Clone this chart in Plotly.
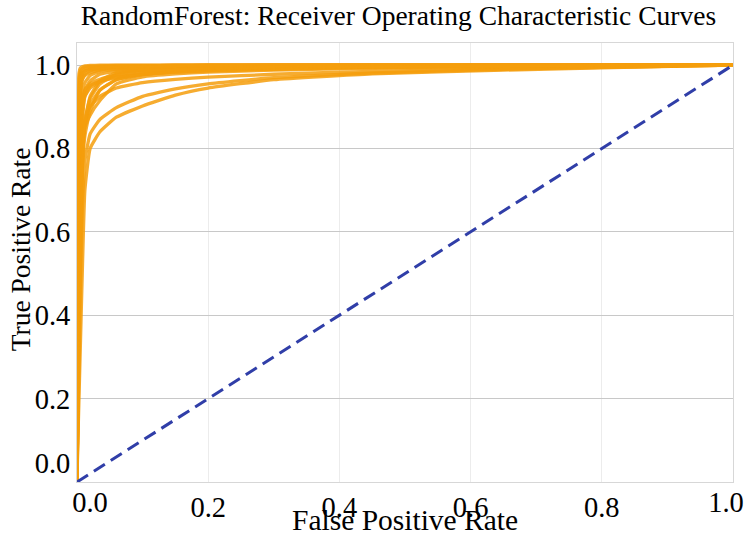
import plotly.graph_objects as go

# Shared false-positive-rate grid for every fold / class curve
fpr_grid = [0.0, 0.001, 0.003, 0.005, 0.008, 0.012, 0.02, 0.035, 0.06,
            0.1, 0.15, 0.2, 0.3, 0.45, 0.65, 0.85, 1.0]

# True-positive rates of each RandomForest ROC curve on the grid above
tpr_curves = [
    [0, 0.08, 0.20, 0.32, 0.50, 0.70, 0.80, 0.840, 0.875, 0.902, 0.928, 0.945, 0.965, 0.979, 0.988, 0.995, 1],
    [0, 0.10, 0.28, 0.45, 0.65, 0.77, 0.835, 0.870, 0.898, 0.925, 0.943, 0.955, 0.970, 0.981, 0.990, 0.996, 1],
    [0, 0.12, 0.33, 0.55, 0.76, 0.86, 0.900, 0.925, 0.945, 0.958, 0.966, 0.971, 0.978, 0.985, 0.991, 0.996, 1],
    [0, 0.15, 0.40, 0.62, 0.78, 0.85, 0.880, 0.915, 0.955, 0.972, 0.979, 0.983, 0.988, 0.992, 0.995, 0.998, 1],
    [0, 0.14, 0.36, 0.58, 0.74, 0.83, 0.890, 0.940, 0.965, 0.977, 0.983, 0.986, 0.990, 0.994, 0.997, 0.999, 1],
    [0, 0.20, 0.50, 0.72, 0.86, 0.925, 0.950, 0.962, 0.972, 0.978, 0.985, 0.990, 0.993, 0.996, 0.998, 0.999, 1],
    [0, 0.25, 0.58, 0.80, 0.90, 0.940, 0.962, 0.978, 0.985, 0.990, 0.993, 0.995, 0.997, 0.998, 0.999, 1, 1],
    [0, 0.18, 0.45, 0.66, 0.80, 0.870, 0.920, 0.955, 0.978, 0.987, 0.991, 0.993, 0.995, 0.997, 0.998, 0.999, 1],
    [0, 0.30, 0.65, 0.85, 0.93, 0.958, 0.975, 0.985, 0.990, 0.993, 0.995, 0.996, 0.997, 0.998, 0.999, 1, 1],
    [0, 0.40, 0.78, 0.92, 0.965, 0.978, 0.986, 0.991, 0.994, 0.996, 0.997, 0.998, 0.999, 1, 1, 1, 1],
    [0, 0.50, 0.86, 0.955, 0.978, 0.986, 0.990, 0.993, 0.995, 0.997, 0.998, 0.999, 1, 1, 1, 1, 1],
    [0, 0.60, 0.92, 0.972, 0.986, 0.991, 0.994, 0.996, 0.997, 0.998, 0.999, 1, 1, 1, 1, 1, 1],
    [0, 0.70, 0.95, 0.985, 0.992, 0.995, 0.997, 0.998, 0.999, 0.999, 1, 1, 1, 1, 1, 1, 1],
    [0, 0.85, 0.98, 0.993, 0.996, 0.998, 0.999, 1, 1, 1, 1, 1, 1, 1, 1, 1, 1],
    [0, 0.16, 0.42, 0.64, 0.79, 0.860, 0.905, 0.940, 0.965, 0.978, 0.984, 0.987, 0.991, 0.995, 0.997, 0.999, 1],
    [0, 0.22, 0.55, 0.76, 0.88, 0.925, 0.945, 0.960, 0.970, 0.980, 0.987, 0.991, 0.994, 0.996, 0.998, 0.999, 1],
    [0, 0.28, 0.60, 0.82, 0.91, 0.940, 0.955, 0.966, 0.976, 0.984, 0.989, 0.992, 0.995, 0.997, 0.998, 0.999, 1],
    [0, 0.13, 0.38, 0.60, 0.76, 0.860, 0.925, 0.962, 0.982, 0.988, 0.991, 0.993, 0.995, 0.997, 0.998, 0.999, 1],
    [0, 0.45, 0.82, 0.935, 0.965, 0.975, 0.982, 0.988, 0.992, 0.995, 0.997, 0.998, 0.999, 1, 1, 1, 1],
    [0, 0.55, 0.90, 0.965, 0.980, 0.986, 0.990, 0.993, 0.996, 0.998, 0.999, 1, 1, 1, 1, 1, 1],
]

# Chance-level reference diagonal
chance_x = [0.0, 1.0]
chance_y = [0.0, 1.0]

inner_ticks = [0.2, 0.4, 0.6, 0.8]
inner_text = ["0.2", "0.4", "0.6", "0.8"]
y_ticks = [0.0, 0.2, 0.4, 0.6, 0.8, 1.0]
NB = "\u00a0"
y_tick_text = ["0.0<br>" + NB, "0.2", "0.4", "0.6", "0.8", "1.0"]

X_RANGE = [0, 1.0]
Y_RANGE = [0, 1.053]

FONT = "Liberation Serif"
TICK_SIZE = 28.5
tick_font = dict(family=FONT, size=TICK_SIZE, color="black")

fig = go.Figure()

for tpr in tpr_curves:
    fig.add_trace(go.Scatter(
        x=fpr_grid, y=tpr, mode="lines",
        line=dict(color="rgb(245,158,12)", width=3.3, shape="spline", smoothing=0.4),
        opacity=0.85, showlegend=False, hoverinfo="skip",
    ))

fig.add_trace(go.Scatter(
    x=chance_x, y=chance_y, mode="lines",
    line=dict(color="rgb(48,62,168)", width=3, dash="13px,7px"),
    showlegend=False, hoverinfo="skip",
))

# The end-label axes need a trace of their own to be drawn; these are fully transparent
for axis_id in ("x2", "x3"):
    fig.add_trace(go.Scatter(
        x=chance_x, y=chance_y, xaxis=axis_id, yaxis="y", mode="lines",
        line=dict(color="rgba(0,0,0,0)", width=0),
        showlegend=False, hoverinfo="skip",
    ))

# Extra x-axes carry the two end labels, nudged inwards so they stay in view
end_axis = dict(overlaying="x", anchor="y", side="bottom", range=X_RANGE,
                showgrid=False, zeroline=False, showline=False, ticks="",
                automargin=False, ticklabeloverflow="allow", tickfont=tick_font)

fig.update_layout(
    width=744, height=537,
    margin=dict(l=77, r=11, t=43, b=55),
    paper_bgcolor="white", plot_bgcolor="white",
    font=dict(family=FONT, size=TICK_SIZE, color="black"),
    title=dict(text="RandomForest: Receiver Operating Characteristic Curves",
               xref="paper", x=0.49, xanchor="center", y=0.99, yanchor="top",
               font=dict(family=FONT, size=27.5, color="black")),
    xaxis=dict(
        range=X_RANGE, tickvals=inner_ticks, ticktext=inner_text,
        showgrid=True, gridcolor="rgb(236,236,236)", gridwidth=1,
        zeroline=False, showline=True, linecolor="rgb(215,215,215)",
        linewidth=1, mirror=True, ticks="", automargin=False,
        tickfont=tick_font,
    ),
    xaxis2=dict(end_axis, tickvals=[0.0], ticktext=["0.0"], ticklabelshift=13),
    xaxis3=dict(end_axis, tickvals=[1.0], ticktext=["1.0"], ticklabelshift=-7),
    yaxis=dict(
        range=Y_RANGE, tickvals=y_ticks, ticktext=y_tick_text,
        showgrid=True, gridcolor="rgb(200,200,200)", gridwidth=1,
        zeroline=False, showline=True, linecolor="rgb(215,215,215)",
        linewidth=1, mirror=True, ticks="", automargin=False,
        tickfont=tick_font,
    ),
    annotations=[
        dict(text="False Positive Rate", xref="paper", yref="paper",
             x=0.5, y=0, yshift=-55, xanchor="center", yanchor="bottom",
             borderpad=0, showarrow=False,
             font=dict(family=FONT, size=29.5, color="black")),
        dict(text="True Positive Rate", xref="paper", yref="paper",
             x=0, y=0.53, xshift=-57, xanchor="center", yanchor="middle",
             textangle=-90, showarrow=False,
             font=dict(family=FONT, size=27.5, color="black")),
    ],
)

fig.write_html("out.html")
